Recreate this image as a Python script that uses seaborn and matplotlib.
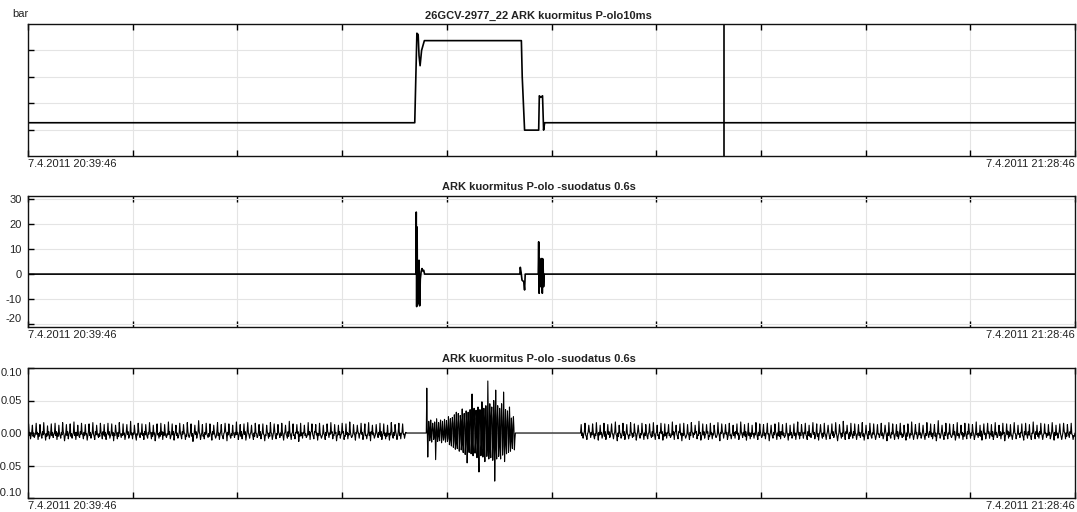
import numpy as np
import matplotlib
matplotlib.use("Agg")
import matplotlib.pyplot as plt
import seaborn as sns

# ---------------- data (time in minutes after 7.4.2011 20:39:46) ----------------
t_span = 49.0
start_label = "7.4.2011 20:39:46"
end_label = "7.4.2011 21:28:46"
unit_label = "bar"
titles = ["26GCV-2977_22 ARK kuormitus P-olo10ms",
          "ARK kuormitus P-olo -suodatus 0.6s",
          "ARK kuormitus P-olo -suodatus 0.6s"]

# panel 1: pressure (relative units, no scale shown)
p_t = [0, 18.10, 18.20, 18.26, 18.30, 18.35, 18.42, 18.55, 23.09, 23.13, 23.24,
       23.90, 23.93, 24.00, 24.08, 24.13, 24.18, 49.0]
p_v = [1.26, 1.26, 4.65, 4.60, 3.80, 3.42, 4.00, 4.37, 4.37, 3.00, 0.98,
       0.98, 2.28, 2.22, 2.28, 0.98, 1.26, 1.26]
cursor_t = 32.56

# panel 2: filtered signal
f_t = [0, 18.15, 18.17, 18.19, 18.21, 18.23, 18.26, 18.30, 18.33, 18.36, 18.40,
       18.44, 18.48, 18.52, 18.56, 23.02, 23.04, 23.08, 23.12, 23.20, 23.24,
       23.27, 23.88, 23.90, 23.92, 23.95, 23.97, 24.02, 24.05, 24.07, 24.10,
       24.13, 24.16, 49.0]
f_v = [0, 0, 24.6, -12.9, 18.7, -12.0, -3.0, 5.5, -12.6, -2.0, 1.0,
       2.2, 1.2, 1.5, 0, 0, 2.7, 0.5, -2.4, -3.0, -6.3,
       0, 0, 12.8, -7.6, 6.2, -5.0, -2.0, 6.2, -7.6, 6.0,
       -5.0, 0, 0]

# panel 3: high-pass residual; per oscillation: peak, trough (thousandths)
# and in-band values (digit strings: digit d = d-6 thousandths)
segA_t = (0.0, 17.71)
segA_up = [14, 12, 15, 13, 16, 11, 14, 15, 12, 16, 13, 14, 17, 12, 15, 13, 14, 16, 12, 15,
           13, 15, 14, 12, 16, 14, 13, 18, 12, 15, 14, 13, 16, 12, 14, 15, 13, 17, 14, 12,
           15, 13, 16, 14, 12, 19, 13, 15, 14, 12, 16, 13, 15, 14, 12, 17, 13, 14, 16, 12,
           15, 13, 14, 12, 16, 14, 13, 15, 12, 18, 14, 13, 15, 12, 16, 14, 13, 15, 12, 14,
           16, 13, 12, 15, 14, 17, 13, 12, 15, 14, 16, 12, 13, 15, 14, 12, 16, 13, 15, 14]
segA_dn = [-9, -7, -10, -8, -11, -9, -7, -10, -8, -12, -9, -8, -10, -7, -9, -11, -8, -10, -7, -9,
           -10, -8, -12, -9, -7, -10, -8, -9, -11, -7, -10, -8, -9, -12, -8, -10, -7, -9, -11, -8,
           -9, -10, -7, -13, -8, -10, -9, -7, -11, -8, -10, -9, -12, -8, -7, -10, -9, -11, -8, -10,
           -7, -9, -12, -8, -10, -9, -7, -11, -8, -10, -9, -13, -8, -7, -10, -9, -11, -8, -10, -7,
           -9, -12, -8, -10, -9, -7, -11, -8, -10, -9, -12, -8, -7, -10, -9, -11, -8, -10, -9, -8]
segA_core = ("2738162547" "5172836451" "3816274528" "6152738416" "2847153627"
             "7261845372" "4518273641" "8362517483" "1745382627" "5283716452"
             "3627481536" "6471538264" "2583617485" "7146283571" "4872615348"
             "1538472615" "6284753182" "3715264837" "8426137452" "5173846218"
             "2648315786" "7381526473" "4726183548" "1863574261" "6517283643"
             "3284617527" "8153746281" "5742816357" "2376584126" "7625143878"
             "4187365252" "1453728664" "6832571438" "3568214753" "8214637586"
             "5647182336" "2785361474" "7318452661" "4563817283" "1826574537")

segB_t = (18.64, 22.81)
segB_up = [69, 18, 20, 15, 17, 22, 16, 20, 18, 21, 19, 25, 22, 24, 28, 32, 30, 27, 37, 30,
           34, 32, 36, 60, 38, 35, 40, 36, 48, 38, 42, 80, 45, 40, 50, 66, 42, 38, 45, 63,
           36, 34, 40, 23, 25]
segB_dn = [-37, -12, -14, -10, -41, -13, -12, -15, -11, -14, -13, -18, -20, -22, -25, -24, -28, -26, -30, -33,
           -46, -30, -32, -35, -31, -38, -60, -35, -37, -44, -36, -40, -38, -42, -74, -40, -36, -40, -34, -44,
           -32, -30, -28, -24, -26]
segB_core = [5, -6, 8, -4, -3, 6, 7, -5, 4, -8, 6, -3, -5, 7, 8, -6, 3, -7, 6, -4, 9, -8,
             12, -10, -8, 14, 15, -12, 10, -14, -12, 16, 14, -10, 18, -15, -10, 16, 15, -18,
             12, -14, -16, 18, 20, -15,
             -18, 20, 22, -16, 18, -22, -20, 24, 25, -18, 16, -24, -22, 20, 24, -20, 20, -25,
             -18, 26, 22, -20, 26, -22, -20, 24,
             20, -18, -16, 22, 18, -20, 22, -16, -15, 18, 16, -14, 14, -12, -10, 12, 8, -10]

segC_t = (25.86, 49.0)
segC_up = [13, 15, 12, 14, 16, 12, 15, 13, 14, 17, 12, 15, 13, 16, 14, 12, 15, 13, 14, 16,
           12, 15, 14, 13, 17, 12, 14, 15, 13, 16, 12, 18, 14, 13, 15, 12, 16, 14, 13, 15,
           12, 14, 17, 13, 15, 12, 16, 14, 13, 15, 12, 14, 16, 13, 15, 12, 14, 17, 13, 15,
           12, 16, 14, 13, 15, 12, 14, 16, 13, 18, 12, 15, 14, 13, 16, 12, 15, 14, 13, 15,
           12, 16, 14, 13, 15, 12, 14, 17, 13, 15, 12, 16, 14, 13, 19, 12, 15, 14, 13, 16,
           12, 15, 14, 13, 17, 12, 14, 15, 13, 16, 12, 15, 14, 13, 16, 12, 14, 15, 13, 17,
           12, 15, 14, 13, 16, 12, 14, 15, 13, 15]
segC_dn = [-8, -10, -7, -9, -11, -8, -10, -7, -9, -12, -8, -10, -9, -7, -11, -8, -10, -9, -7, -10,
           -9, -11, -8, -7, -10, -9, -12, -8, -10, -7, -9, -11, -8, -10, -9, -7, -12, -8, -10, -9,
           -8, -10, -7, -11, -9, -8, -10, -7, -9, -12, -8, -10, -9, -7, -11, -8, -10, -9, -8, -10,
           -7, -9, -11, -8, -10, -9, -7, -12, -8, -10, -9, -8, -10, -7, -11, -9, -8, -10, -7, -9,
           -12, -8, -10, -9, -7, -11, -8, -10, -9, -8, -10, -7, -9, -12, -8, -10, -9, -7, -11, -8,
           -10, -9, -8, -10, -7, -11, -9, -8, -10, -7, -9, -12, -8, -10, -9, -7, -11, -8, -10, -9,
           -8, -10, -7, -9, -11, -8, -10, -9, -7, -10]
segC_core = ("2648315786" "7381526473" "4726183548" "1863574261" "6517283643"
             "3284617527" "8153746281" "5742816357" "2376584126" "7625143878"
             "4187365252" "1453728664" "6832571438" "3568214753" "8214637586"
             "5647182336" "2785361474" "7318452661" "4563817283" "1826574537"
             "5173846218" "8426137452" "3715264837" "6284753182" "1538472615"
             "4872615348" "7146283571" "2583617485" "6471538264" "3627481536"
             "5283716452" "1745382627" "8362517483" "4518273641" "7261845372"
             "2847153627" "6152738416" "3816274528" "5172836451" "2738162547"
             "3751628494" "6284173562" "1937462858" "5418263717" "2863571449"
             "7142386525" "4576218363" "8321657484" "1684723556" "5237168472"
             "3648512786" "6173854321")

p_ticks = [1, 2, 3, 4]
f_ticks = [-20, -10, 0, 10, 20, 30]
f_ticklabels = ["-20", "-10", "0", "10", "20", "30"]
n_ticks = [-0.10, -0.05, 0.00, 0.05, 0.10]
n_ticklabels = ["-0.10", "-0.05", "0.00", "0.05", "0.10"]


def decode_core(m):
    if isinstance(m, str):
        return [int(c) - 6 for c in m]
    return list(m)


def segment(trange, up, dn, core):
    core = np.array(decode_core(core), dtype=float)
    k = len(core) // len(up)
    n = min(len(up), len(core) // k)
    c = core[: n * k].reshape(n, k)
    h = k // 2
    cyc = np.column_stack([np.array(up[:n]), c[:, :h], np.array(dn[:n]), c[:, h:]])
    vals = np.concatenate([[0.0], np.ravel(cyc) / 1000.0, [0.0]])
    ts = np.linspace(trange[0], trange[1], len(vals))
    return ts, vals


parts = [segment(segA_t, segA_up, segA_dn, segA_core),
         segment(segB_t, segB_up, segB_dn, segB_core),
         segment(segC_t, segC_up, segC_dn, segC_core)]
n_t = np.concatenate([p[0] for p in parts])
n_v = np.concatenate([p[1] for p in parts])

# ---------------- style ----------------
sns.set_theme(style="white")
plt.rcParams["font.family"] = ["Liberation Sans", "DejaVu Sans"]
plt.rcParams["axes.unicode_minus"] = False

FS = 8
fig = plt.figure(figsize=(10.77, 5.12), dpi=100)
L, W = 28 / 1077, 1047 / 1077
rects = [(L, 1 - 156 / 512, W, 132 / 512),
         (L, 1 - 327 / 512, W, 131 / 512),
         (L, 1 - 498 / 512, W, 130 / 512)]
axes = [fig.add_axes(r) for r in rects]

grid_c = "#e4e4e4"
txt_c = "#222222"
xgrid = np.linspace(0, t_span, 11)

for ax, title in zip(axes, titles):
    ax.set_xlim(0, t_span)
    ax.set_xticks(xgrid)
    ax.set_xticklabels([])
    ax.grid(True, color=grid_c, linewidth=0.8)
    ax.set_axisbelow(True)
    ax.tick_params(axis="x", direction="in", length=4, width=1, color="black",
                   top=True, bottom=True, labelbottom=False)
    ax.tick_params(axis="y", direction="in", length=4, width=1, color="black",
                   left=True, right=False, labelsize=FS, labelcolor=txt_c, pad=4.5)
    for s in ax.spines.values():
        s.set_color("#111111")
        s.set_linewidth(1.0)
    ax.set_title(title, fontsize=FS, fontweight="bold", color=txt_c, pad=4,
                 x=(538.5 - 28) / 1047)
    ax.text(0, -0.02, start_label, transform=ax.transAxes, ha="left", va="top",
            fontsize=FS, color=txt_c)
    ax.text(1, -0.02, end_label, transform=ax.transAxes, ha="right", va="top",
            fontsize=FS, color=txt_c)

# panel 1
ax = axes[0]
sns.lineplot(x=p_t, y=p_v, estimator=None, sort=False, color="black", linewidth=1.2, ax=ax)
ax.axvline(cursor_t, color="black", linewidth=1.2)
ax.set_ylim(0, 5)
ax.set_yticks(p_ticks)
ax.set_yticklabels([])
fig.text(12 / 1077, 1 - 14 / 512, unit_label, fontsize=FS, color=txt_c, va="center", ha="left")

# panel 2
ax = axes[1]
sns.lineplot(x=f_t, y=f_v, estimator=None, sort=False, color="black", linewidth=1.2, ax=ax)
ax.set_ylim(-21, 31)
ax.set_yticks(f_ticks)
ax.set_yticklabels(f_ticklabels)
ax.get_yticklabels()[0].set_va("bottom")

# panel 3
ax = axes[2]
sns.lineplot(x=n_t, y=n_v, estimator=None, sort=False, color="black", linewidth=0.8, ax=ax)
ax.set_ylim(-0.10, 0.10)
ax.set_yticks(n_ticks)
ax.set_yticklabels(n_ticklabels)
labs = ax.get_yticklabels()
labs[0].set_va("bottom")
labs[-1].set_va("top")

for ax in axes:
    ax.set_xlim(0, t_span)
    ax.set_xlabel("")
    ax.set_ylabel("")
    if ax.get_legend():
        ax.get_legend().remove()

fig.savefig("out.png", dpi=100)
